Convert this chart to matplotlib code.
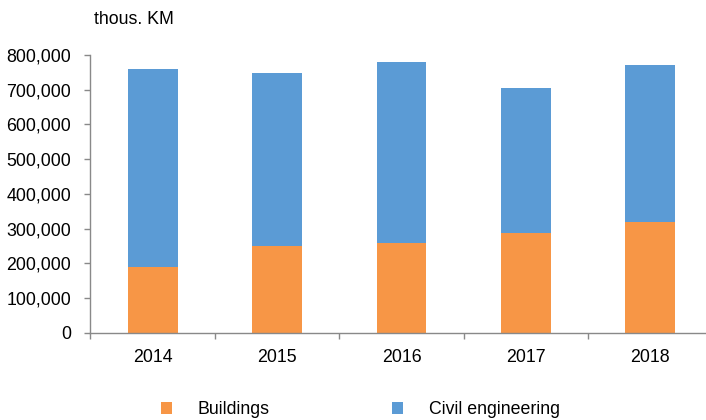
import matplotlib
matplotlib.use("Agg")
import matplotlib.pyplot as plt
from matplotlib.ticker import FuncFormatter, FixedLocator

years = ["2014", "2015", "2016", "2017", "2018"]
buildings = [190000, 251000, 257000, 286000, 320000]
civil = [569000, 498000, 524000, 419000, 450000]
unit_label = "thous. KM"
series_names = ["Buildings", "Civil engineering"]

plt.rcParams['font.family'] = ['Liberation Sans', 'DejaVu Sans']
FS = 12.8

ORANGE = "#F79646"
BLUE = "#5B9BD5"
GRAY = "#898989"

fig = plt.figure(figsize=(7.06, 4.2), dpi=100)
ax = fig.add_axes([90.5/706, (420-332.7)/420, 622/706, (332.7-55)/420])

x = list(range(len(years)))
b1 = ax.bar(x, buildings, width=0.4, color=ORANGE, label=series_names[0])
b2 = ax.bar(x, civil, width=0.4, bottom=buildings, color=BLUE, label=series_names[1])

ax.set_xlim(-0.5, 4.5)
ax.set_ylim(0, 800000)
ax.set_yticks(range(0, 800001, 100000))
ax.yaxis.set_major_formatter(FuncFormatter(lambda v, p: f"{int(v):,}"))
ax.set_xticks(x)
ax.set_xticklabels(years)
ax.xaxis.set_minor_locator(FixedLocator([i - 0.5 for i in range(len(years) + 1)]))

for s in ["top", "right"]:
    ax.spines[s].set_visible(False)
for s in ["left", "bottom"]:
    ax.spines[s].set_color(GRAY)
    ax.spines[s].set_linewidth(1.0)

ax.tick_params(axis='y', direction='out', length=4, width=1, color=GRAY, pad=10, labelsize=FS, labelcolor='black')
ax.tick_params(axis='x', which='major', length=0, pad=12, labelsize=FS, labelcolor='black')
ax.tick_params(axis='x', which='minor', direction='out', length=4, width=1, color=GRAY)

fig.text(94/706, 1 - 20/420, unit_label, fontsize=FS, va='center', ha='left')

leg = fig.legend(handles=[b1, b2], labels=series_names, loc='center left',
                 bbox_to_anchor=(161/706, (420-409.5)/420), ncol=2, frameon=False,
                 fontsize=FS, handlelength=0.62, handleheight=0.62,
                 handletextpad=1.46, columnspacing=6.87, borderpad=0, borderaxespad=0)

fig.savefig("out.png", dpi=100)
